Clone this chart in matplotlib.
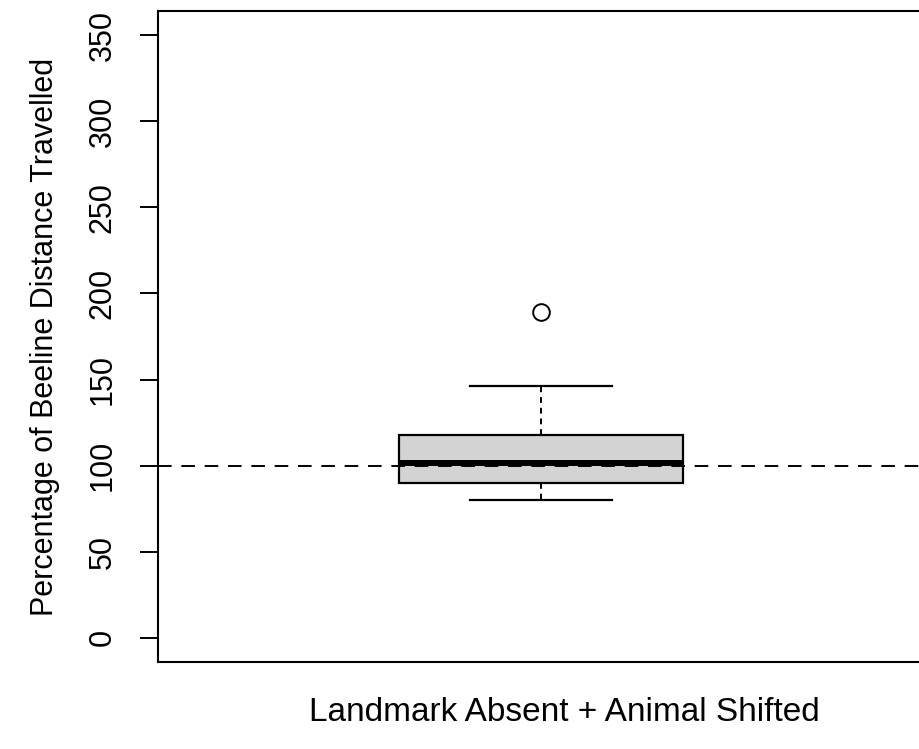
import numpy as np
import matplotlib
matplotlib.use('Agg')
import matplotlib.pyplot as plt

# box summary (percent of beeline distance)
group = 'Landmark Absent + Animal Shifted'
whisker_low = 80
q1 = 89.7
median = 101.5
q3 = 118
whisker_high = 146
outliers = [189]
ref_level = 100
yticks = [0, 50, 100, 150, 200, 250, 300, 350]

plt.rcParams['font.family'] = ['Liberation Sans', 'DejaVu Sans']

fig = plt.figure(figsize=(9.2, 7.49), dpi=100)
ax = fig.add_axes([158 / 920, 1 - 662 / 749, 766 / 920, 651 / 749])

stats = [dict(whislo=whisker_low, q1=q1, med=median, q3=q3,
              whishi=whisker_high, fliers=outliers, label='')]
ax.bxp(stats, positions=[1], widths=0.4, patch_artist=True,
       boxprops=dict(facecolor='#d3d3d3', edgecolor='black', linewidth=1.6),
       medianprops=dict(color='black', linewidth=4.3, solid_capstyle='butt'),
       whiskerprops=dict(color='black', linewidth=1.4, linestyle=(0, (3, 2.5))),
       capprops=dict(color='black', linewidth=1.6),
       flierprops=dict(marker='o', markerfacecolor='none', markeredgecolor='black',
                       markersize=12, markeredgewidth=1.4),
       capwidths=0.2)

ax.axhline(ref_level, color='black', linewidth=1.4, linestyle=(0, (7, 5)), zorder=5)

ax.set_xlim(0.46, 1.54)
ax.set_ylim(-14, 364)
ax.set_xticks([])
ax.set_yticks(yticks)
ax.set_yticklabels([str(v) for v in yticks], rotation=90, va='center')
ax.tick_params(axis='y', length=13, width=1.4, pad=16, labelsize=22)
for s in ax.spines.values():
    s.set_linewidth(1.5)

ax.set_ylabel('Percentage of Beeline Distance Travelled', fontsize=22, labelpad=20)
ax.set_xlabel(group, fontsize=24, labelpad=26)
ax.xaxis.set_label_coords(0.531, -0.054, transform=ax.transAxes)
ax.xaxis.label.set_va('top')

fig.savefig('out.png', dpi=100)
